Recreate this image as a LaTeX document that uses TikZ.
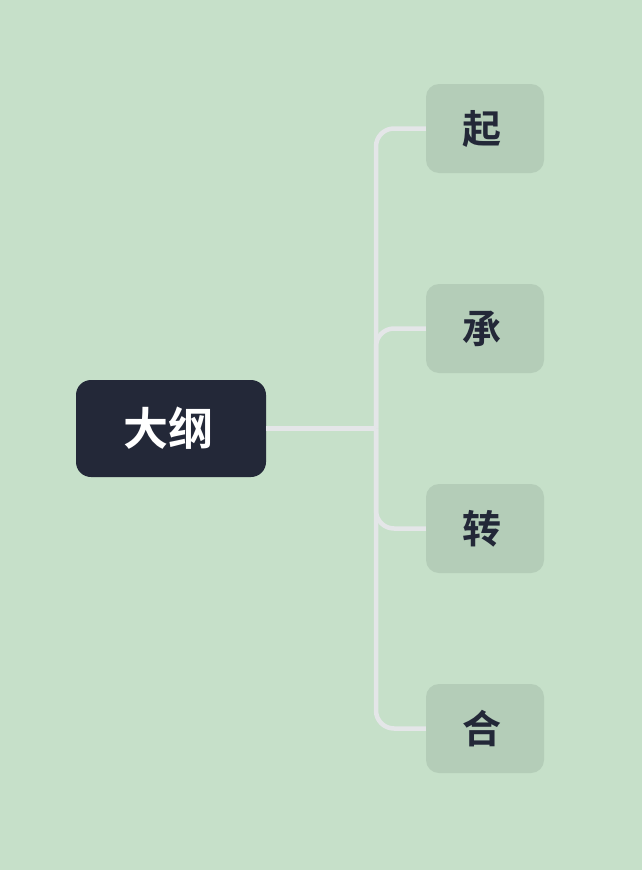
\documentclass[tikz,border=0pt]{standalone}
\usepackage{fontspec}
\newfontfamily\cjk{Noto Sans CJK SC}[BoldFont={Noto Sans CJK SC Bold}]
\definecolor{bg}{HTML}{C6E0C9}
\definecolor{leaf}{HTML}{B4CDB8}
\definecolor{navy}{HTML}{232838}
\definecolor{wire}{HTML}{E4E6E8}
\begin{document}
\begin{tikzpicture}[x=1pt,y=-1pt,
  rootbox/.style={fill=navy,rounded corners=15pt,minimum width=190pt,minimum height=97pt,inner sep=0pt,
    text=white,font=\cjk\bfseries\fontsize{45}{48}\selectfont},
  leafbox/.style={fill=leaf,rounded corners=13pt,minimum width=118pt,minimum height=89pt,inner sep=0pt,
    text=navy,font=\cjk\bfseries\fontsize{39}{42}\selectfont},
  wireline/.style={draw=wire,line width=4.5pt,rounded corners=18pt}]
\fill[bg] (0,0) rectangle (642,870);
\useasboundingbox (0,0) rectangle (642,870);
\node[rootbox] (root) at (171,428.5) {\kern-6pt\raisebox{-1pt}{大纲}};
\node[leafbox] (a) at (485,128.5) {\kern-6pt\raisebox{-1.5pt}{起}};
\node[leafbox] (b) at (485,328.5) {\kern-6pt\raisebox{-1.5pt}{承}};
\node[leafbox] (c) at (485,528.5) {\kern-6pt\raisebox{-1.5pt}{转}};
\node[leafbox] (d) at (485,728.5) {\kern-6pt\raisebox{-1.5pt}{合}};
\coordinate (trunk) at (376,428.5);
\draw[wireline] (root.east) -- (trunk);
\draw[wireline] (trunk) |- (a.west);
\draw[wireline] (trunk) |- (b.west);
\draw[wireline] (trunk) |- (c.west);
\draw[wireline] (trunk) |- (d.west);
\end{tikzpicture}
\end{document}
